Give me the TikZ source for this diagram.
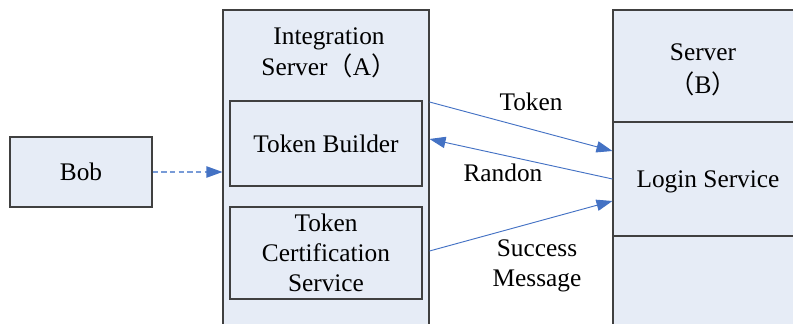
\documentclass[tikz,border=0pt]{standalone}
\usepackage{fontspec}
\setmainfont{Liberation Serif}
\newfontfamily\cjk{Noto Sans CJK SC}
\usetikzlibrary{arrows.meta}
\definecolor{boxfill}{RGB}{230,236,246}
\definecolor{boxline}{RGB}{64,64,64}
\definecolor{flowblue}{RGB}{68,114,196}
\definecolor{dashblue}{RGB}{120,155,215}
\tikzset{
  px/.style={x=0.75pt,y=-0.75pt},
  txt/.style={font=\fontsize{19pt}{22.5pt}\selectfont,align=center},
  box/.style={txt,draw=boxline,fill=boxfill,line width=0.8pt,rectangle,inner sep=0pt},
  lbl/.style={txt,inner sep=0pt},
  flow/.style={draw=flowblue,line width=0.7pt,-{Triangle[length=12pt,width=8.5pt]}},
  dflow/.style={draw=dashblue,line width=0.9pt,dash pattern=on 4pt off 2.5pt,
    -{Triangle[length=12pt,width=8.5pt,color=flowblue,fill=flowblue]}}
}
\begin{document}
\begin{tikzpicture}[px]
\useasboundingbox (0,0) rectangle (793,324);
% client
\node[box,minimum width=142*0.75pt,minimum height=70*0.75pt] (bob) at (81,172) {Bob};
% integration server (A) with its two services
\node[box,minimum width=206*0.75pt,minimum height=322*0.75pt] (A) at (326,171) {};
\node[lbl,font=\fontsize{19pt}{23.5pt}\selectfont] (Atitle) at (329,52.5) {Integration\\Server{\cjk（}A{\cjk）}};
\node[box,minimum width=192*0.75pt,minimum height=85*0.75pt] (tb) at (326,143.5) {Token Builder};
\node[box,minimum width=192*0.75pt,minimum height=92*0.75pt] (tc) at (326,253) {Token\\Certification\\Service};
% server (B)
\node[box,minimum width=190*0.75pt,minimum height=112*0.75pt] (Bhead) at (708,66) {};
\node[lbl,font=\fontsize{19pt}{25pt}\selectfont] (Btitle) at (703,70) {Server\\{\cjk（}B{\cjk）}};
\node[box,text depth=0pt,minimum width=190*0.75pt,minimum height=114*0.75pt] (login) at (708,179) {Login Service};
\node[box,minimum width=190*0.75pt,minimum height=100*0.75pt] (Bfoot) at (708,286) {};
% messages
\draw[dflow] (bob.east) -- (A.west |- bob.east);
\draw[flow] (A.east |- 0,102) -- (login.west |- 0,151);
\draw[flow] (login.west |- 0,179) -- (A.east |- 0,139);
\draw[flow] (A.east |- 0,251) -- (login.west |- 0,201);
\node[lbl] (ltoken) at (531,102) {Token};
\node[lbl] (lrandon) at (503,173) {Randon};
\node[lbl] (lsucc) at (537,266) {Success\\Message};
\end{tikzpicture}
\end{document}
